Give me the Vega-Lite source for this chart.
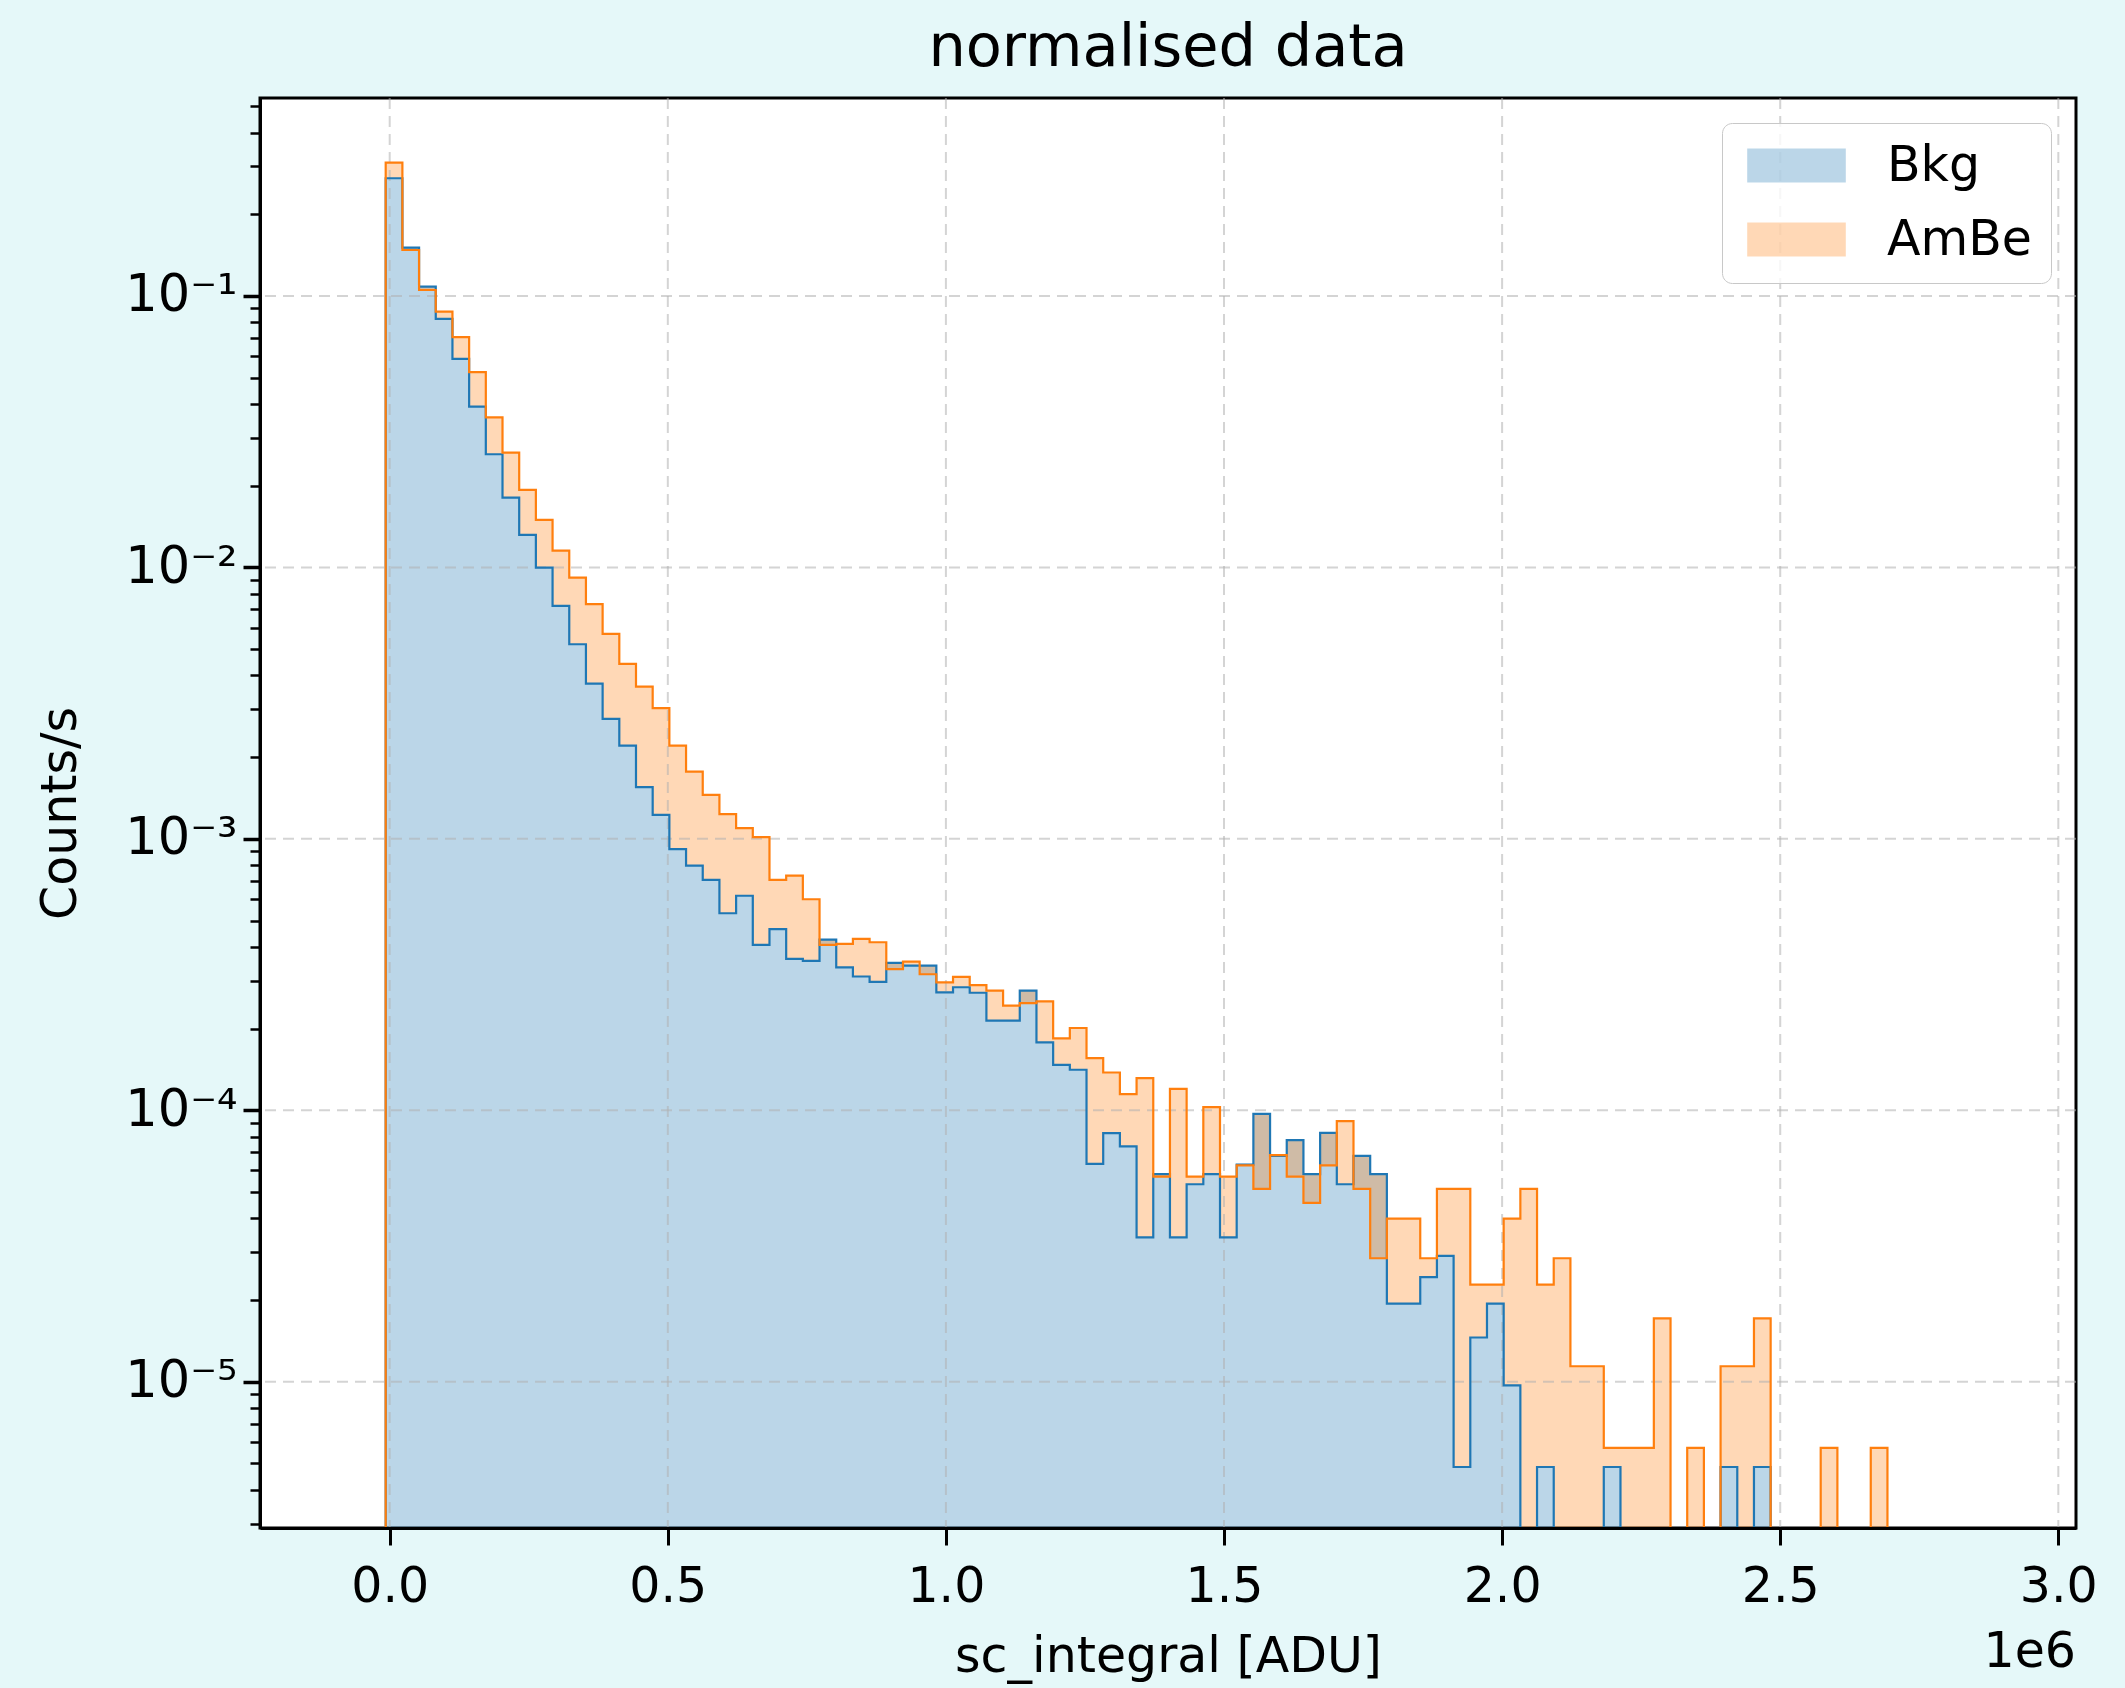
{
  "$schema": "https://vega.github.io/schema/vega-lite/v6.json",
  "width": 1816,
  "height": 1430,
  "autosize": {"type": "none"},
  "padding": {"left": 260, "top": 98, "right": 49, "bottom": 160},
  "background": "#e5f8f9",
  "title": {"text": "normalised data", "fontSize": 59, "fontWeight": "normal", "font": "DejaVu Sans", "color": "black", "anchor": "middle", "frame": "group", "offset": 2},
  "datasets": {
    "hist": [
      {"k":-1,"x":-7200,"bkg":0,"ambe":0},
      {"k":0,"x":-7200,"bkg":0.2714,"ambe":0.31},
      {"k":1,"x":22800,"bkg":0.1506,"ambe":0.1477},
      {"k":2,"x":52800,"bkg":0.1082,"ambe":0.1052},
      {"k":3,"x":82800,"bkg":0.0823,"ambe":0.0876},
      {"k":4,"x":112800,"bkg":0.0586,"ambe":0.0705},
      {"k":5,"x":142800,"bkg":0.0391,"ambe":0.0524},
      {"k":6,"x":172800,"bkg":0.02611,"ambe":0.0357},
      {"k":7,"x":202800,"bkg":0.01807,"ambe":0.02647},
      {"k":8,"x":232800,"bkg":0.01317,"ambe":0.0193},
      {"k":9,"x":262800,"bkg":0.00998,"ambe":0.01496},
      {"k":10,"x":292800,"bkg":0.00721,"ambe":0.01153},
      {"k":11,"x":322800,"bkg":0.00521,"ambe":0.00917},
      {"k":12,"x":352800,"bkg":0.00373,"ambe":0.00732},
      {"k":13,"x":382800,"bkg":0.002767,"ambe":0.00569},
      {"k":14,"x":412800,"bkg":0.002206,"ambe":0.00441},
      {"k":15,"x":442800,"bkg":0.00155,"ambe":0.00364},
      {"k":16,"x":472800,"bkg":0.001226,"ambe":0.00303},
      {"k":17,"x":502800,"bkg":0.000917,"ambe":0.002206},
      {"k":18,"x":532800,"bkg":0.000797,"ambe":0.001769},
      {"k":19,"x":562800,"bkg":0.000706,"ambe":0.001453},
      {"k":20,"x":592800,"bkg":0.000532,"ambe":0.001233},
      {"k":21,"x":622800,"bkg":0.000617,"ambe":0.001095},
      {"k":22,"x":652800,"bkg":0.000407,"ambe":0.001015},
      {"k":23,"x":682800,"bkg":0.000465,"ambe":0.000706},
      {"k":24,"x":712800,"bkg":0.000361,"ambe":0.000732},
      {"k":25,"x":742800,"bkg":0.000355,"ambe":0.000599},
      {"k":26,"x":772800,"bkg":0.000425,"ambe":0.000407},
      {"k":27,"x":802800,"bkg":0.000336,"ambe":0.00041},
      {"k":28,"x":832800,"bkg":0.000311,"ambe":0.000428},
      {"k":29,"x":862800,"bkg":0.000297,"ambe":0.000416},
      {"k":30,"x":892800,"bkg":0.000349,"ambe":0.000331},
      {"k":31,"x":922800,"bkg":0.000341,"ambe":0.000353},
      {"k":32,"x":952800,"bkg":0.000341,"ambe":0.000317},
      {"k":33,"x":982800,"bkg":0.000272,"ambe":0.000296},
      {"k":34,"x":1012800,"bkg":0.000284,"ambe":0.00031},
      {"k":35,"x":1042800,"bkg":0.000271,"ambe":0.000289},
      {"k":36,"x":1072800,"bkg":0.000214,"ambe":0.000276},
      {"k":37,"x":1102800,"bkg":0.000214,"ambe":0.000243},
      {"k":38,"x":1132800,"bkg":0.000276,"ambe":0.000248},
      {"k":39,"x":1162800,"bkg":0.0001778,"ambe":0.000252},
      {"k":40,"x":1192800,"bkg":0.0001471,"ambe":0.000184},
      {"k":41,"x":1222800,"bkg":0.000141,"ambe":0.000201},
      {"k":42,"x":1252800,"bkg":0.0000635,"ambe":0.0001557},
      {"k":43,"x":1282800,"bkg":0.0000824,"ambe":0.0001378},
      {"k":44,"x":1312800,"bkg":0.0000736,"ambe":0.0001147},
      {"k":45,"x":1342800,"bkg":0.000034,"ambe":0.0001314},
      {"k":46,"x":1372800,"bkg":0.0000582,"ambe":0.000057},
      {"k":47,"x":1402800,"bkg":0.000034,"ambe":0.00012},
      {"k":48,"x":1432800,"bkg":0.0000534,"ambe":0.000057},
      {"k":49,"x":1462800,"bkg":0.0000582,"ambe":0.0001027},
      {"k":50,"x":1492800,"bkg":0.000034,"ambe":0.000057},
      {"k":51,"x":1522800,"bkg":0.0000631,"ambe":0.0000627},
      {"k":52,"x":1552800,"bkg":0.000097,"ambe":0.0000513},
      {"k":53,"x":1582800,"bkg":0.0000679,"ambe":0.0000684},
      {"k":54,"x":1612800,"bkg":0.0000776,"ambe":0.000057},
      {"k":55,"x":1642800,"bkg":0.0000582,"ambe":0.0000456},
      {"k":56,"x":1672800,"bkg":0.0000825,"ambe":0.0000627},
      {"k":57,"x":1702800,"bkg":0.0000534,"ambe":0.0000912},
      {"k":58,"x":1732800,"bkg":0.0000679,"ambe":0.0000513},
      {"k":59,"x":1762800,"bkg":0.0000582,"ambe":0.0000285},
      {"k":60,"x":1792800,"bkg":0.0000194,"ambe":0.0000399},
      {"k":61,"x":1822800,"bkg":0.0000194,"ambe":0.0000399},
      {"k":62,"x":1852800,"bkg":0.0000243,"ambe":0.0000285},
      {"k":63,"x":1882800,"bkg":0.0000291,"ambe":0.0000513},
      {"k":64,"x":1912800,"bkg":0.00000485,"ambe":0.0000513},
      {"k":65,"x":1942800,"bkg":0.00001455,"ambe":0.0000228},
      {"k":66,"x":1972800,"bkg":0.0000194,"ambe":0.0000228},
      {"k":67,"x":2002800,"bkg":0.0000097,"ambe":0.0000399},
      {"k":68,"x":2032800,"bkg":0,"ambe":0.0000513},
      {"k":69,"x":2062800,"bkg":0.00000485,"ambe":0.0000228},
      {"k":70,"x":2092800,"bkg":0,"ambe":0.0000285},
      {"k":71,"x":2122800,"bkg":0,"ambe":0.0000114},
      {"k":72,"x":2152800,"bkg":0,"ambe":0.0000114},
      {"k":73,"x":2182800,"bkg":0.00000485,"ambe":0.0000057},
      {"k":74,"x":2212800,"bkg":0,"ambe":0.0000057},
      {"k":75,"x":2242800,"bkg":0,"ambe":0.0000057},
      {"k":76,"x":2272800,"bkg":0,"ambe":0.0000171},
      {"k":77,"x":2302800,"bkg":0,"ambe":0},
      {"k":78,"x":2332800,"bkg":0,"ambe":0.0000057},
      {"k":79,"x":2362800,"bkg":0,"ambe":0},
      {"k":80,"x":2392800,"bkg":0.00000485,"ambe":0.0000114},
      {"k":81,"x":2422800,"bkg":0,"ambe":0.0000114},
      {"k":82,"x":2452800,"bkg":0.00000485,"ambe":0.0000171},
      {"k":83,"x":2482800,"bkg":0,"ambe":0},
      {"k":84,"x":2512800,"bkg":0,"ambe":0},
      {"k":85,"x":2542800,"bkg":0,"ambe":0},
      {"k":86,"x":2572800,"bkg":0,"ambe":0.0000057},
      {"k":87,"x":2602800,"bkg":0,"ambe":0},
      {"k":88,"x":2632800,"bkg":0,"ambe":0},
      {"k":89,"x":2662800,"bkg":0,"ambe":0.0000057},
      {"k":90,"x":2692800,"bkg":0,"ambe":0}
    ],
    "xgrid": [{"g":0},{"g":500000},{"g":1000000},{"g":1500000},{"g":2000000},{"g":2500000},{"g":3000000}],
    "ygrid": [{"g":0.1},{"g":0.01},{"g":0.001},{"g":0.0001},{"g":0.00001}],
    "offsettext": [{"t": "1e6"}]
  },
  "layer": [
    {
      "data": {"name": "hist"},
      "mark": {"type": "area", "interpolate": "step-after", "opacity": 0.3, "clip": true, "invalid": "show"},
      "encoding": {
        "x": {"field": "x", "type": "quantitative", "title": "sc_integral [ADU]",
              "scale": {"type": "linear", "domain": [-233200, 3031800], "nice": false, "zero": false},
              "axis": {"values": [0,500000,1000000,1500000,2000000,2500000,3000000],
                       "labelExpr": "format(datum.value/1000000, '.1f')",
                       "grid": false, "domain": true, "domainColor": "black", "domainWidth": 3,
                       "ticks": true, "tickColor": "black", "tickSize": 17, "tickWidth": 3,
                       "labelFontSize": 49, "labelColor": "black", "labelPadding": 17, "labelFlush": false, "labelOverlap": false,
                       "titleFontSize": 49, "titleFontWeight": "normal", "titleColor": "black", "titlePadding": 21, "zindex": 1}},
        "y": {"field": "bkg", "type": "quantitative", "title": "Counts/s", "stack": null,
              "scale": {"type": "log", "domain": [0.000002891, 0.5362], "nice": false, "clamp": true},
              "axis": {"values": [0.000003,0.000004,0.000005,0.000006,0.000007,0.000008,0.000009,
                                  0.00001,0.00002,0.00003,0.00004,0.00005,0.00006,0.00007,0.00008,0.00009,
                                  0.0001,0.0002,0.0003,0.0004,0.0005,0.0006,0.0007,0.0008,0.0009,
                                  0.001,0.002,0.003,0.004,0.005,0.006,0.007,0.008,0.009,
                                  0.01,0.02,0.03,0.04,0.05,0.06,0.07,0.08,0.09,
                                  0.1,0.2,0.3,0.4,0.5],
                       "labelExpr": "abs(log(datum.value)/LN10 - round(log(datum.value)/LN10)) < 0.001 ? '10⁻' + ['⁰','¹','²','³','⁴','⁵','⁶'][round(-log(datum.value)/LN10)] : ''",
                       "grid": false, "domain": true, "domainColor": "black", "domainWidth": 3,
                       "ticks": true, "tickColor": "black",
                       "tickSize": {"condition": {"test": "abs(log(datum.value)/LN10 - round(log(datum.value)/LN10)) < 0.001", "value": 17}, "value": 10},
                       "tickWidth": {"condition": {"test": "abs(log(datum.value)/LN10 - round(log(datum.value)/LN10)) < 0.001", "value": 3.5}, "value": 2.5},
                       "labelFontSize": 51, "labelColor": "black", "labelPadding": 6, "labelFlush": false, "labelOverlap": false,
                       "titleFontSize": 49, "titleFontWeight": "normal", "titleColor": "black", "titlePadding": 39, "zindex": 1}},
        "color": {"datum": "Bkg", "type": "nominal",
                  "scale": {"domain": ["Bkg", "AmBe"], "range": ["#1f77b4", "#ff7f0e"]},
                  "legend": {"title": null, "orient": "top-right", "offset": 25,
                             "symbolType": "M-2.9,-1H2.9V1H-2.9Z", "symbolSize": 1156, "symbolStrokeWidth": 0,
                             "symbolOffset": 32, "labelOffset": 66, "labelFontSize": 49, "labelColor": "black",
                             "fillColor": "rgba(255,255,255,0.8)", "strokeColor": "#c8c8c8", "cornerRadius": 10,
                             "padding": 18, "rowPadding": 24, "labelLimit": 400}}
      }
    },
    {
      "data": {"name": "hist"},
      "mark": {"type": "area", "interpolate": "step-after", "opacity": 0.3, "clip": true, "invalid": "show"},
      "encoding": {
        "x": {"field": "x", "type": "quantitative", "title": "sc_integral [ADU]"},
        "y": {"field": "ambe", "type": "quantitative", "title": "Counts/s"},
        "y2": {"field": "bkg"},
        "color": {"datum": "AmBe", "type": "nominal"}
      }
    },
    {
      "data": {"name": "xgrid"},
      "mark": {"type": "rule", "color": "#b0b0b0", "opacity": 0.55, "strokeWidth": 2, "strokeDash": [11, 7]},
      "encoding": {"x": {"field": "g", "type": "quantitative", "title": "sc_integral [ADU]"}}
    },
    {
      "data": {"name": "ygrid"},
      "mark": {"type": "rule", "color": "#b0b0b0", "opacity": 0.55, "strokeWidth": 2, "strokeDash": [11, 7]},
      "encoding": {"y": {"field": "g", "type": "quantitative", "title": "Counts/s"}}
    },
    {
      "data": {"name": "hist"},
      "mark": {"type": "line", "interpolate": "step-after", "color": "#1f77b4", "strokeWidth": 2.2, "clip": true, "invalid": "show"},
      "encoding": {
        "x": {"field": "x", "type": "quantitative", "title": "sc_integral [ADU]"},
        "y": {"field": "bkg", "type": "quantitative", "title": "Counts/s"},
        "order": {"field": "k", "type": "quantitative"}
      }
    },
    {
      "data": {"name": "hist"},
      "mark": {"type": "line", "interpolate": "step-after", "color": "#ff7f0e", "strokeWidth": 2.2, "clip": true, "invalid": "show"},
      "encoding": {
        "x": {"field": "x", "type": "quantitative", "title": "sc_integral [ADU]"},
        "y": {"field": "ambe", "type": "quantitative", "title": "Counts/s"},
        "order": {"field": "k", "type": "quantitative"}
      }
    },
    {
      "data": {"name": "offsettext"},
      "mark": {"type": "text", "align": "right", "baseline": "alphabetic", "dy": 139, "fontSize": 49, "color": "black", "clip": false},
      "encoding": {
        "x": {"datum": 3031800, "type": "quantitative"},
        "y": {"datum": 0.000002891, "type": "quantitative"},
        "text": {"field": "t"}
      }
    }
  ],
  "config": {
    "font": "DejaVu Sans",
    "view": {"stroke": "black", "strokeWidth": 3, "fill": "white"}
  }
}
